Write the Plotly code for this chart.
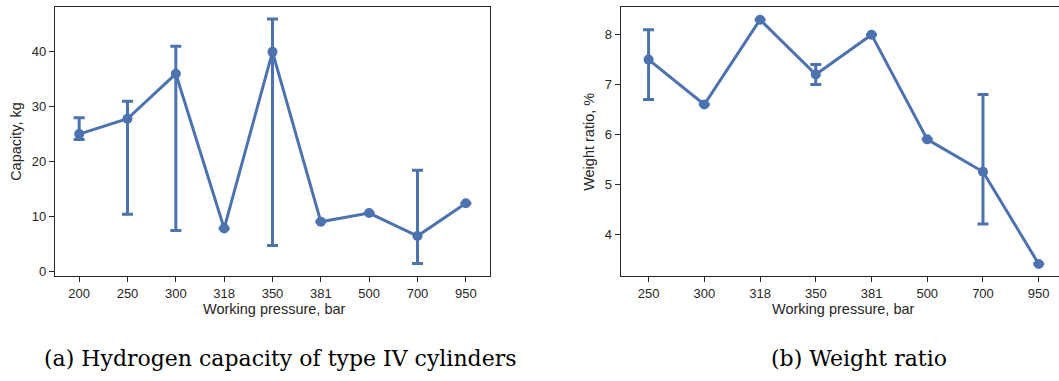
import plotly.graph_objects as go

# ---- data ----
pressure_a = ["200", "250", "300", "318", "350", "381", "500", "700", "950"]
capacity = [25.0, 27.8, 36.0, 7.8, 40.0, 9.0, 10.6, 6.4, 12.4]
capacity_hi = [28.0, 31.0, 41.0, None, 46.0, None, None, 18.4, None]
capacity_lo = [24.0, 10.4, 7.4, None, 4.7, None, None, 1.4, None]

pressure_b = ["250", "300", "318", "350", "381", "500", "700", "950"]
weight_ratio = [7.5, 6.6, 8.3, 7.2, 8.0, 5.9, 5.25, 3.4]
weight_hi = [8.1, None, None, 7.4, None, None, 6.8, None]
weight_lo = [6.7, None, None, 7.0, None, None, 4.2, None]

yticks_a = [0, 10, 20, 30, 40]
yticks_b = [4, 5, 6, 7, 8]

BLUE = "#4C72B0"
INK = "#262626"
W, H = 1059, 381


def err(vals, bound, upper):
    out = []
    for v, b in zip(vals, bound):
        if b is None:
            out.append(float("nan"))
        else:
            out.append(b - v if upper else v - b)
    return out


fig = go.Figure()
for xs, ys, hi, lo, xa, ya in [
    (pressure_a, capacity, capacity_hi, capacity_lo, "x", "y"),
    (pressure_b, weight_ratio, weight_hi, weight_lo, "x2", "y2"),
]:
    fig.add_trace(go.Scatter(
        x=xs, y=ys, xaxis=xa, yaxis=ya, mode="lines+markers",
        line=dict(color=BLUE, width=3),
        marker=dict(color=BLUE, size=10),
        error_y=dict(type="data", symmetric=False,
                     array=err(ys, hi, True), arrayminus=err(ys, lo, False),
                     color=BLUE, thickness=3, width=5.5),
        showlegend=False, cliponaxis=False,
    ))


def px(x):
    return x / W


def py(y):
    return (H - y) / H


ydom = [py(278), py(7.5)]
axis_common = dict(showgrid=False, zeroline=False, showline=True, linecolor=INK,
                   linewidth=1.25, ticks="outside", ticklen=5, tickwidth=1.25,
                   tickcolor=INK, tickfont=dict(family="Liberation Sans, Arial", size=13, color=INK))

fig.update_layout(
    width=W, height=H, margin=dict(l=0, r=0, t=0, b=0),
    paper_bgcolor="white", plot_bgcolor="white",
    xaxis=dict(domain=[px(55), px(490)], type="category", range=[-0.5, 8.5],
               mirror=True, anchor="y", **axis_common),
    yaxis=dict(domain=ydom, range=[-0.85, 48.1], tickvals=yticks_a,
               mirror=True, anchor="x", **axis_common),
    xaxis2=dict(domain=[px(620.7), 1.0], type="category", range=[-0.5, 7.364],
                mirror=True, anchor="y2", **axis_common),
    yaxis2=dict(domain=ydom, range=[3.163, 8.546], tickvals=yticks_b,
                mirror=False, anchor="x2", **axis_common),
)

sans = dict(family="Liberation Sans, Arial", size=14.5, color=INK)
serif = dict(family="DejaVu Serif", size=22, color="black")
ann = [
    dict(text="Working pressure, bar", x=px(274), y=py(311), font=sans),
    dict(text="Working pressure, bar", x=px(843), y=py(311), font=sans),
    dict(text="Capacity, kg", x=px(16), y=py(143), font=sans, textangle=-90),
    dict(text="Weight ratio, %", x=px(589), y=py(143), font=sans, textangle=-90),
    dict(text="(a) Hydrogen capacity of type IV cylinders", x=px(280), y=py(361), font=serif),
    dict(text="(b) Weight ratio", x=px(859), y=py(361), font=serif),
]
for a in ann:
    a.update(xref="paper", yref="paper", showarrow=False, xanchor="center", yanchor="middle")
fig.update_layout(annotations=ann)

fig.write_html("out.html")
